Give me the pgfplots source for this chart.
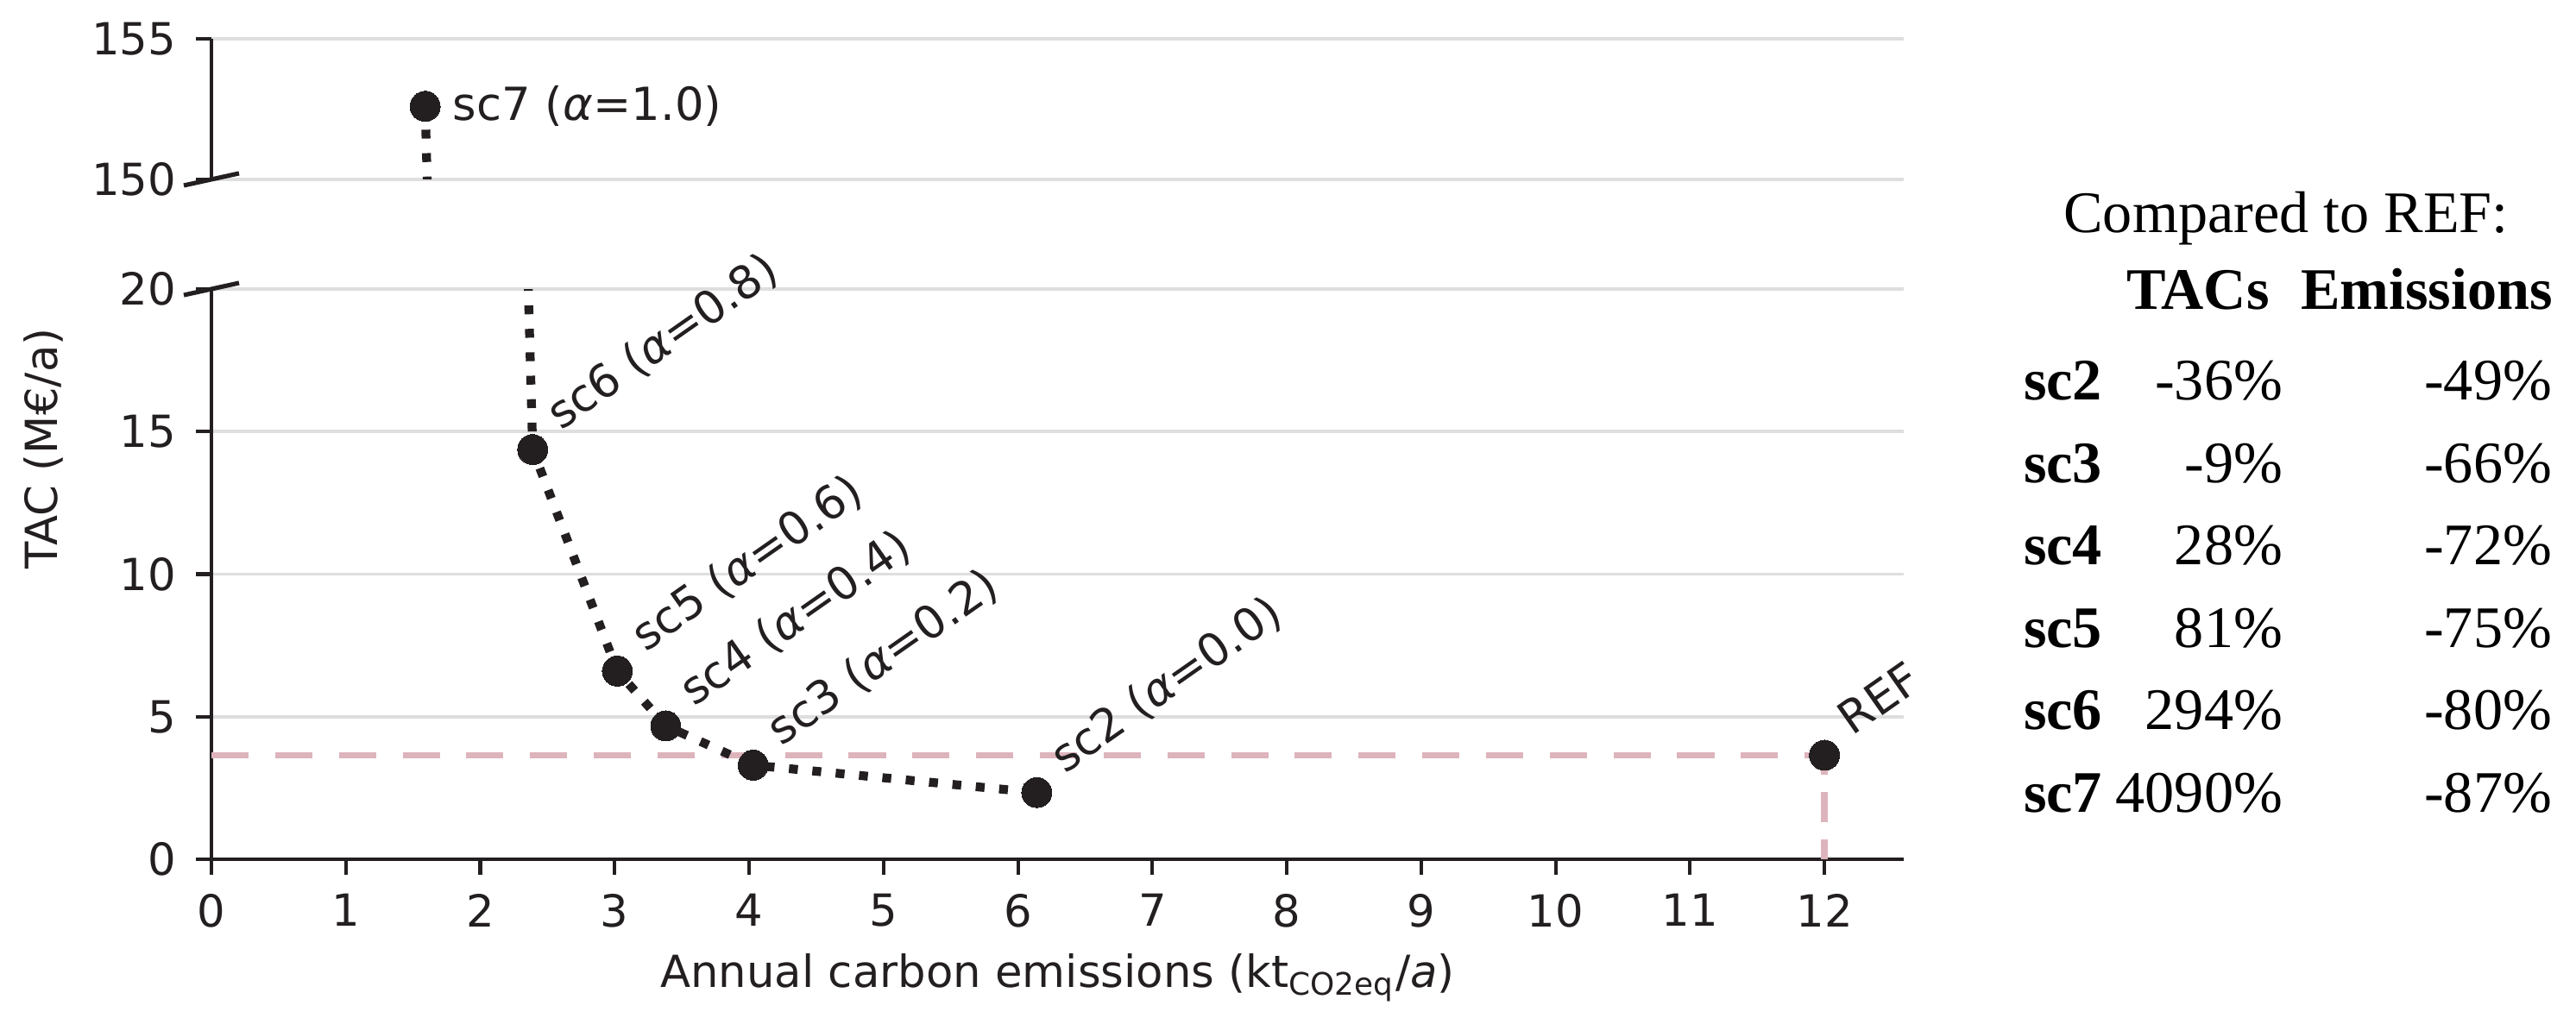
\documentclass[border=0pt]{standalone}
\usepackage{pgfplots}
\pgfplotsset{compat=1.18}
\usepackage{fontspec}
\setmainfont{DejaVu Sans}
\newfontfamily\tabfont{Liberation Serif}
\definecolor{ink}{RGB}{35,31,32}
\definecolor{refpink}{RGB}{221,180,188}
\definecolor{gridgray}{RGB}{222,222,222}

\tikzset{brk/.style={ink, line width=1pt}}
\pgfplotsset{
  common/.style={
    scale only axis, width=382.4pt, xmin=0, xmax=12.59,
    anchor=south west, clip mode=individual,
    axis line style={ink, line width=0.8pt, -},
    tick align=outside, major tick length=3.5pt,
    major tick style={ink, line width=0.8pt},
    ymajorgrids, grid style={gridgray, line width=0.7pt},
    tick label style={font=\fontsize{10}{12}\selectfont, text=ink},
    /pgf/number format/assume math mode=true,
    yticklabel style={inner sep=0pt, anchor=east, xshift=-4.3pt},
    xticklabel style={inner sep=0pt, anchor=north, yshift=-4.1pt},
  },
  dotline/.style={ink, line width=2pt, dash pattern=on 2pt off 3.3pt, no markers},
  dots/.style={only marks, mark=*, mark size=3.4pt, mark options={fill=ink, draw=ink, line width=0pt}},
}

\begin{document}
\begin{tikzpicture}
\path[use as bounding box] (0,0) rectangle (582.075pt,229.905pt);

% ---------- top axis (150-155) ----------
\begin{axis}[common, at={(47.775pt,189.345pt)}, height=31.785pt,
  ymin=150, ymax=155, ytick={150,155},
  hide x axis, axis y line*=left]
\addplot[dotline] coordinates {(1.59,152.6) (2.39,14.37) (3.02,6.60) (3.38,4.68) (4.03,3.30) (6.14,2.34)};
\addplot[dots, nodes near coords, point meta=explicit symbolic,
  every node near coord/.append style={anchor=west, inner sep=0pt, xshift=6.3pt, yshift=0pt,
    font=\fontsize{10.3}{12}\selectfont, text=ink}]
  coordinates {(1.59,152.6) [{sc7 (\textit{α}=1.0)}]};
\draw[brk] ([xshift=-6.24pt,yshift=-1.37pt]rel axis cs:0,0) -- ([xshift=6.24pt,yshift=1.37pt]rel axis cs:0,0);
\end{axis}

% ---------- bottom axis (0-20) ----------
\begin{axis}[common, at={(47.775pt,35.685pt)}, height=128.895pt,
  ymin=0, ymax=20, ytick={0,5,10,15,20}, xtick={0,1,...,12},
  axis x line*=bottom, axis y line*=left,
  xlabel={Annual carbon emissions (kt\textsubscript{CO2eq}/\textit{a})},
  ylabel={TAC (M€/a)},
  every axis x label/.style={at={(axis description cs:0.5,0)}, anchor=base, yshift=-29.05pt,
    font=\fontsize{10}{12}\selectfont, text=ink},
  every axis y label/.style={at={(axis description cs:-0.0994,0.72)}, rotate=90, anchor=center,
    font=\fontsize{10}{12}\selectfont, text=ink}]
\addplot[refpink, line width=1.45pt, dash pattern=on 8.4pt off 6pt] coordinates {(0,3.65) (12,3.65)};
\addplot[refpink, line width=1.45pt, dash pattern=on 6.8pt off 3.9pt, dash phase=2.4pt] coordinates {(12,3.65) (12,0)};
\addplot[dotline] coordinates {(1.59,152.6) (2.39,14.37) (3.02,6.60) (3.38,4.68) (4.03,3.30) (6.14,2.34)};
\addplot[dots, nodes near coords, point meta=explicit symbolic,
  every node near coord/.append style={xshift=6.4pt, yshift=4.2pt, rotate=35, anchor=base west,
    inner sep=0pt, font=\fontsize{10.3}{12}\selectfont, text=ink}]
  coordinates {
    (2.39,14.37) [{sc6 (\textit{α}=0.8)}]
    (3.02,6.60)  [{sc5 (\textit{α}=0.6)}]
    (3.38,4.68)  [{sc4 (\textit{α}=0.4)}]
    (4.03,3.30)  [{sc3 (\textit{α}=0.2)}]
    (6.14,2.34)  [{sc2 (\textit{α}=0.0)}]
    (12.0,3.65)  [{REF}]
  };
\draw[brk] ([xshift=-6.24pt,yshift=-1.37pt]rel axis cs:0,1) -- ([xshift=6.24pt,yshift=1.37pt]rel axis cs:0,1);
\end{axis}

% ---------- comparison table ----------
\begin{scope}[every node/.style={inner sep=0pt, text=black, font=\tabfont\fontsize{13.3}{16}\selectfont}]
\node[anchor=base] at (516.56pt,177.45pt) {Compared to REF:};
\node[anchor=base west] at (480.29pt,160.0pt) {\bfseries TACs};
\node[anchor=base west] at (519.68pt,160.0pt) {\bfseries Emissions};
\foreach \y/\s/\t/\e in {139.52/sc2/-36\%/-49\%, 120.88/sc3/-9\%/-66\%, 102.23/sc4/28\%/-72\%,
                         83.58/sc5/81\%/-75\%, 64.94/sc6/294\%/-80\%, 46.29/sc7/4090\%/-87\%}{
  \node[anchor=base west] at (457.08pt,\y pt) {\bfseries \s};
  \node[anchor=base east] at (515.97pt,\y pt) {\t};
  \node[anchor=base east] at (576.81pt,\y pt) {\e};
}
\end{scope}
\end{tikzpicture}
\end{document}
